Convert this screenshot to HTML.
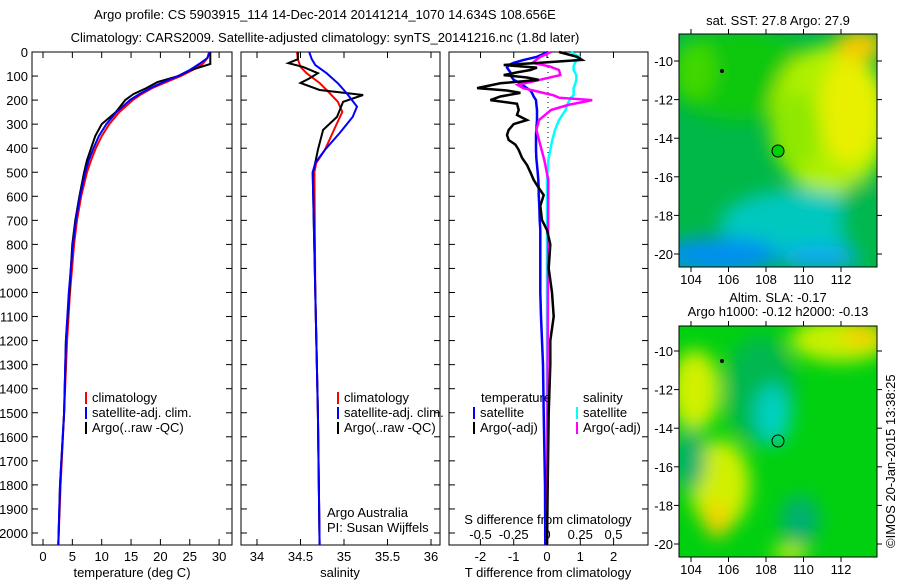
<!DOCTYPE html>
<html><head><meta charset="utf-8"><style>
body{margin:0;background:#fff;}
svg text{font-family:"Liberation Sans",sans-serif;font-size:13px;fill:#000;}
</style></head><body>
<svg id="c" width="900" height="580" xmlns="http://www.w3.org/2000/svg">
<defs>
<filter id="bl" x="-50%" y="-50%" width="200%" height="200%"><feGaussianBlur stdDeviation="9"/></filter>
<clipPath id="m1"><rect x="679" y="34" width="198" height="233"/></clipPath>
<clipPath id="m2"><rect x="679" y="326" width="198" height="231"/></clipPath>
</defs>
<text x="325" y="19" text-anchor="middle">Argo profile: CS 5903915_114 14-Dec-2014 20141214_1070 14.634S 108.656E</text>
<text x="325" y="42" text-anchor="middle">Climatology: CARS2009. Satellite-adjusted climatology: synTS_20141216.nc (1.8d later)</text>
<g id="maps">
<g clip-path="url(#m1)">
<rect x="679" y="34" width="198" height="233" fill="#00b848"/>
<g filter="url(#bl)">
<ellipse cx="740" cy="75" rx="70" ry="45" fill="#10c810"/>
<ellipse cx="695" cy="70" rx="20" ry="30" fill="#40d800"/>
<ellipse cx="830" cy="120" rx="60" ry="75" fill="#b0f000"/>
<ellipse cx="850" cy="110" rx="30" ry="55" fill="#e8f000"/>
<ellipse cx="860" cy="45" rx="25" ry="15" fill="#f8c800"/>
<ellipse cx="795" cy="130" rx="25" ry="40" fill="#90e800"/>
<ellipse cx="800" cy="225" rx="80" ry="35" fill="#00c8c0"/>
<ellipse cx="720" cy="255" rx="60" ry="18" fill="#0090f0"/>
<ellipse cx="820" cy="258" rx="40" ry="12" fill="#10a8f0"/>
<ellipse cx="860" cy="220" rx="20" ry="40" fill="#00b850"/>
</g>
<circle cx="778" cy="151" r="6" fill="#00d000" stroke="#000" stroke-width="1"/>
<circle cx="722" cy="71" r="2" fill="#000"/>
</g>
<rect x="679" y="34" width="198" height="233" fill="none" stroke="#000"/>
<text x="778" y="25" text-anchor="middle">sat. SST: 27.8 Argo: 27.9</text>
<g clip-path="url(#m2)">
<rect x="679" y="326" width="198" height="231" fill="#00d010"/>
<g filter="url(#bl)">
<ellipse cx="760" cy="390" rx="35" ry="55" fill="#00b850"/>
<ellipse cx="773" cy="415" rx="18" ry="30" fill="#00d0c0"/>
<ellipse cx="695" cy="390" rx="25" ry="40" fill="#d0f000"/>
<ellipse cx="720" cy="485" rx="30" ry="45" fill="#d0f000"/>
<ellipse cx="717" cy="520" rx="12" ry="18" fill="#f8d000"/>
<ellipse cx="840" cy="340" rx="50" ry="22" fill="#c8f000"/>
<ellipse cx="862" cy="335" rx="20" ry="12" fill="#f8d000"/>
<ellipse cx="800" cy="520" rx="20" ry="25" fill="#00b070"/>
<ellipse cx="690" cy="460" rx="15" ry="30" fill="#00b070"/>
<ellipse cx="790" cy="553" rx="18" ry="8" fill="#d0f000"/>
</g>
<circle cx="778" cy="441" r="6" fill="none" stroke="#000" stroke-width="1"/>
<circle cx="722" cy="361" r="2" fill="#000"/>
</g>
<rect x="679" y="326" width="198" height="231" fill="none" stroke="#000"/>
<text x="778" y="302" text-anchor="middle">Altim. SLA: -0.17</text>
<text x="778" y="316" text-anchor="middle">Argo h1000: -0.12 h2000: -0.13</text>
<text transform="translate(895,548) rotate(-90)">©IMOS 20-Jan-2015 13:38:25</text>
</g>
</svg>
<script>
// ---- data ----
const depthTicks=[0,100,200,300,400,500,600,700,800,900,1000,1100,1200,1300,1400,1500,1600,1700,1800,1900,2000];
const tempTicks=[0,5,10,15,20,25,30];
const salTicks=[34,34.5,35,35.5,36];
const tdTicks=[-2,-1,0,1,2];
const sdTicks=[-0.5,-0.25,0,0.25,0.5];
const sdTickLabels=["-0.5","-0.25","0","0.25","0.5"];
const tDepth=[0,25,50,75,100,125,150,175,200,250,300,350,400,450,500,600,700,800,1000,1200,1500,1800,2050];
const tClim=[28.3,28.0,27.2,25.5,23.5,21.0,18.6,16.8,15.3,13.0,11.3,10.0,9.0,8.2,7.5,6.5,5.8,5.3,4.6,4.1,3.6,3.0,2.6];
const tSat=[28.4,28.0,26.6,25.0,23.0,20.5,18.3,16.4,14.8,12.5,10.8,9.5,8.6,7.8,7.2,6.3,5.6,5.1,4.4,3.9,3.6,2.9,2.6];
const tArgo=[28.5,28.5,28.5,25.2,23.1,19.5,17.6,15.4,14.0,12.4,10.0,8.9,8.2,7.5,7.0,6.2,5.5,5.0,4.5,3.9,3.6,2.9,2.6];
const sClimDepth=[0,30,62,88,129,158,207,249,312,407,461,500,1000,1500,2050];
const sClim=[34.46,34.47,34.5,34.57,34.72,34.8,34.93,34.98,34.9,34.78,34.68,34.66,34.67,34.7,34.72];
const sSatDepth=[0,30,54,88,130,171,227,270,337,407,461,500,1000,1500,2050];
const sSat=[34.6,34.63,34.67,34.8,34.93,35.03,35.15,35.1,34.95,34.78,34.67,34.64,34.67,34.7,34.72];
const sArgoDepth=[0,30,46,62,88,110,129,158,179,207,270,324,407,478,500,1000,1500,2050];
const sArgo=[34.47,34.47,34.36,34.53,34.7,34.6,34.5,34.72,35.22,34.99,34.92,34.76,34.7,34.66,34.64,34.67,34.7,34.72];
const dtDepth=[0,20,33,45,54,65,75,85,96,106,116,130,150,160,170,185,200,215,241,262,283,300,324,345,366,385,407,440,470,500,532,565,595,640,699,740,800,900,1000,1100,1200,1300,1500,1800,2050];
const dtArgo=[0.36,0.9,1.05,-0.2,-1.3,-0.3,-0.5,-0.9,-1.3,-0.6,-0.25,-1.4,-2.1,-1.2,-0.8,-1.4,-1.7,-0.9,-0.85,-0.9,-0.6,-1.0,-1.15,-1.2,-1.15,-0.95,-0.85,-0.75,-0.6,-0.5,-0.4,-0.25,-0.1,-0.2,-0.15,0,0.1,0.05,0.15,0.2,0.1,0.1,0.05,0.02,0];
const dtSat=[0.03,-0.3,-0.7,-1.0,-1.15,-1.2,-1.15,-1.1,-1.1,-1.05,-1.0,-0.8,-0.6,-0.5,-0.45,-0.4,-0.33,-0.32,-0.3,-0.3,-0.3,-0.31,-0.32,-0.33,-0.33,-0.33,-0.33,-0.32,-0.3,-0.28,-0.26,-0.25,-0.25,-0.23,-0.22,-0.2,-0.2,-0.2,-0.2,-0.18,-0.15,-0.12,-0.1,-0.06,-0.05];
const dsDepth=[0,20,45,60,75,96,115,137,150,166,180,190,200,210,220,241,283,324,366,449,532,2050];
const dsArgo=[0.03,-0.05,-0.11,0.02,0.09,0.1,-0.05,-0.22,-0.18,-0.06,0.05,0.09,0.34,0.25,0.16,0.03,-0.06,-0.08,-0.06,-0.02,0.01,0];
const dsSat=[0.18,0.24,0.21,0.2,0.2,0.22,0.22,0.21,0.2,0.2,0.2,0.18,0.17,0.16,0.15,0.14,0.09,0.06,0.04,0.01,0,0];
const lonTicks=[104,106,108,110,112];
const latTicks=[-10,-12,-14,-16,-18,-20];

const svg=document.getElementById('c');const NS='http://www.w3.org/2000/svg';
function el(tag,attrs,parent){const e=document.createElementNS(NS,tag);for(const k in attrs)e.setAttribute(k,attrs[k]);(parent||svg).appendChild(e);return e;}
function txt(x,y,s,anchor,parent){const t=el('text',{x:x,y:y,'text-anchor':anchor||'middle'},parent);t.textContent=s;return t;}
const Y0=52,Y1=545;
function yD(d){return Y0+d*0.2405;}
function line(xs,ds,fx,color,w,name,parent){
  const p=xs.map((v,i)=>(i?'L':'M')+fx(v).toFixed(1)+','+yD(ds[i]).toFixed(1)).join('');
  const e=el('path',{d:p,fill:'none',stroke:color,'stroke-width':w},parent);
  
  
}
function box(x0,x1,name){
  const g=el('g',{});
  
  
  el('rect',{x:x0,y:Y0,width:x1-x0,height:Y1-Y0,fill:'none',stroke:'#000'},g);
  depthTicks.forEach(d=>{el('line',{x1:x0,x2:x0+6,y1:yD(d),y2:yD(d),stroke:'#000'},g);el('line',{x1:x1,x2:x1-6,y1:yD(d),y2:yD(d),stroke:'#000'},g);});
  return g;
}
// panel 1
const fT=v=>43+v*5.87;
const g1=box(32,232,'temperature-panel');
depthTicks.forEach(d=>{const t=txt(28,yD(d)+5,String(d),'end',g1);});
tempTicks.forEach(v=>{el('line',{x1:fT(v),x2:fT(v),y1:Y1,y2:Y1-6,stroke:'#000'},g1);el('line',{x1:fT(v),x2:fT(v),y1:Y0,y2:Y0+6,stroke:'#000'},g1);txt(fT(v),561,String(v),'middle',g1);});
txt(132,577,'temperature (deg C)','middle',g1);
line(tClim,tDepth,fT,'#f00',2,'temp-climatology-line',g1);
line(tArgo,tDepth,fT,'#000',2,'temp-argo-line',g1);
line(tSat,tDepth,fT,'#00f',2,'temp-satellite-line',g1);
function legend(x,y,g,items){items.forEach((it,i)=>{el('line',{x1:x,x2:x,y1:y+i*15-10,y2:y+i*15+2,stroke:it[1],'stroke-width':2},g);const t=txt(x+6,y+i*15,it[0],'start',g);});}
legend(86,402,g1,[['climatology','#f00'],['satellite-adj. clim.','#00f'],['Argo(..raw -QC)','#000']]);
// panel 2
const fS=v=>257+(v-34)*87;
const g2=box(241,440,'salinity-panel');
salTicks.forEach(v=>{el('line',{x1:fS(v),x2:fS(v),y1:Y1,y2:Y1-6,stroke:'#000'},g2);el('line',{x1:fS(v),x2:fS(v),y1:Y0,y2:Y0+6,stroke:'#000'},g2);txt(fS(v),561,String(v),'middle',g2);});
txt(340,577,'salinity','middle',g2);
line(sClim,sClimDepth,fS,'#f00',2,'sal-climatology-line',g2);
line(sArgo,sArgoDepth,fS,'#000',2,'sal-argo-line',g2);
line(sSat,sSatDepth,fS,'#00f',2,'sal-satellite-line',g2);
legend(338,402,g2,[['climatology','#f00'],['satellite-adj. clim.','#00f'],['Argo(..raw -QC)','#000']]);
txt(327,517,'Argo Australia','start',g2);txt(327,532,'PI: Susan Wijffels','start',g2);
// panel 3
const fDT=v=>547+v*33.3, fDS=v=>547+v*133;
const g3=box(449,648,'difference-panel');
el('line',{x1:548,x2:548,y1:Y0,y2:Y1,stroke:'#000','stroke-dasharray':'1,4'},g3);
tdTicks.forEach(v=>{el('line',{x1:fDT(v),x2:fDT(v),y1:Y1,y2:Y1-6,stroke:'#000'},g3);txt(fDT(v),561,String(v),'middle',g3);});
sdTicks.forEach((v,i)=>{el('line',{x1:fDS(v),x2:fDS(v),y1:Y0,y2:Y0+6,stroke:'#000'},g3);txt(fDS(v),539,sdTickLabels[i],'middle',g3);});
txt(548,524,'S difference from climatology','middle',g3);
txt(548,577,'T difference from climatology','middle',g3);
line(dsSat,dsDepth,fDS,'#0ff',2.5,'sal-diff-satellite-line',g3);
line(dtSat,dtDepth,fDT,'#00f',2.5,'temp-diff-satellite-line',g3);
line(dsArgo,dsDepth,fDS,'#f0f',2.5,'sal-diff-argo-line',g3);
line(dtArgo,dtDepth,fDT,'#000',2.5,'temp-diff-argo-line',g3);
txt(481,402,'temperature','start',g3);txt(583,402,'salinity','start',g3);
legend(474,417,g3,[['satellite','#00f'],['Argo(-adj)','#000']]);
legend(577,417,g3,[['satellite','#0ff'],['Argo(-adj)','#f0f']]);
// map axes
function mapAxes(y0,y1,latY10,latY20,name){
  const g=el('g',{});
  
  
  const fx=v=>691+(v-104)*18.75, fy=v=>latY10+(-10-v)*(latY20-latY10)/10;
  lonTicks.forEach(v=>{el('line',{x1:fx(v),x2:fx(v),y1:y1,y2:y1+5,stroke:'#000'},g);el('line',{x1:fx(v),x2:fx(v),y1:y0,y2:y0-5,stroke:'#000'},g);txt(fx(v),y1+17,String(v),'middle',g);});
  latTicks.forEach(v=>{el('line',{x1:679,x2:674,y1:fy(v),y2:fy(v),stroke:'#000'},g);el('line',{x1:877,x2:882,y1:fy(v),y2:fy(v),stroke:'#000'},g);txt(673,fy(v)+5,String(v),'end',g);});
}
mapAxes(34,267,61,254,'sst-map-axes');
mapAxes(326,557,351,544,'sla-map-axes');
</script>
</body></html>
